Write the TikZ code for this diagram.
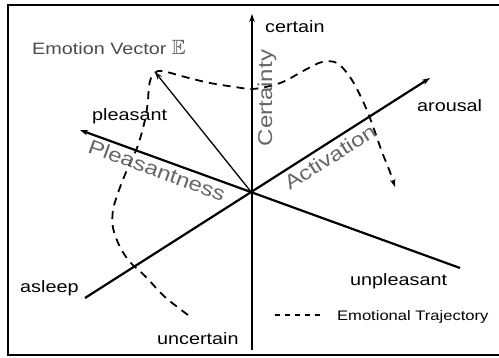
\documentclass[tikz,border=0pt]{standalone}
\usepackage{fontspec}
\usepackage{amssymb}
\setmainfont[FakeStretch=1.2]{Liberation Sans}
\usetikzlibrary{arrows.meta}
\begin{document}
\begin{tikzpicture}[x=1pt,y=-1pt,
  lbl/.style={font=\fontsize{16.5}{18}\selectfont, inner sep=0pt},
  leglbl/.style={font=\fontsize{13.8}{15}\selectfont, inner sep=0pt},
  axlbl/.style={font=\fontsize{20}{22}\selectfont, text=black!60, inner sep=0pt},
  axisline/.style={line width=2.2pt},
  tip/.style={-{Stealth[length=8pt,width=5.5pt]}},
  traj/.style={line width=1.8pt, dash pattern=on 8pt off 6pt}]
\useasboundingbox (0,0) rectangle (499,358);
% frame
\draw[line width=1.5pt] (499,5) -- (8,5) -- (8,355) -- (499,355);
% axes
\coordinate (O) at (252,193);
\coordinate (Ctop) at (252,14);
\coordinate (Cbot) at (252,350);
\coordinate (Pl) at (80,130);
\coordinate (Un) at (460,268);
\coordinate (As) at (85,298);
\coordinate (Ar) at (430,78);
\coordinate (Ev) at (155,72);
\draw[line width=1.5pt, tip] (Cbot) -- (Ctop);
\draw[axisline, tip] (Un) -- (Pl);
\draw[axisline, tip] (As) -- (Ar);
\draw[line width=1.3pt, tip] (O) -- (Ev);
% trajectory
\draw[traj, -{Stealth[length=8pt,width=5.5pt]}] plot[smooth, tension=0.55] coordinates {
 (188,315) (165,297) (145,276) (130,262) (120,247) (113,228) (113,210) (118,193)
 (124,177) (131,161) (137,148) (142,132) (146,115) (148,100) (149,86) (152,76)
 (158,71) (167,72) (185,77) (210,83) (235,87) (252,89) (270,86) (285,81) (305,70)
 (322,62) (337,63) (350,77) (360,95) (368,113) (375,132) (382,152) (390,172) (395,187)};
% labels
\node[lbl, text=black!70, anchor=base west] (ev) at (32,55) {Emotion Vector \scalebox{1.25}{$\mathbb{E}$}};
\node[lbl, anchor=base west] (cert) at (265,33) {certain};
\node[lbl, anchor=base west] (uncert) at (157,345) {uncertain};
\node[lbl, anchor=base west] (pleas) at (92,121) {pleasant};
\node[lbl, anchor=base west] (unpl) at (350,286) {unpleasant};
\node[lbl, anchor=base west] (arou) at (417,112) {arousal};
\node[lbl, anchor=base west] (aslp) at (20,293) {asleep};
\node[axlbl, rotate=90, anchor=base] (certy) at (272,98) {Certainty};
\node[axlbl, rotate=-20] (pleasy) at (157,170) {Pleasantness};
\node[axlbl, rotate=32.5] (activ) at (330,157) {Activation};
% legend
\coordinate (L1) at (275,315);
\coordinate (L2) at (321,315);
\draw[line width=1.4pt, dash pattern=on 5pt off 5pt] (L1) -- (L2);
\node[leglbl, anchor=base west] (legt) at (337,321) {Emotional Trajectory};
\end{tikzpicture}
\end{document}
